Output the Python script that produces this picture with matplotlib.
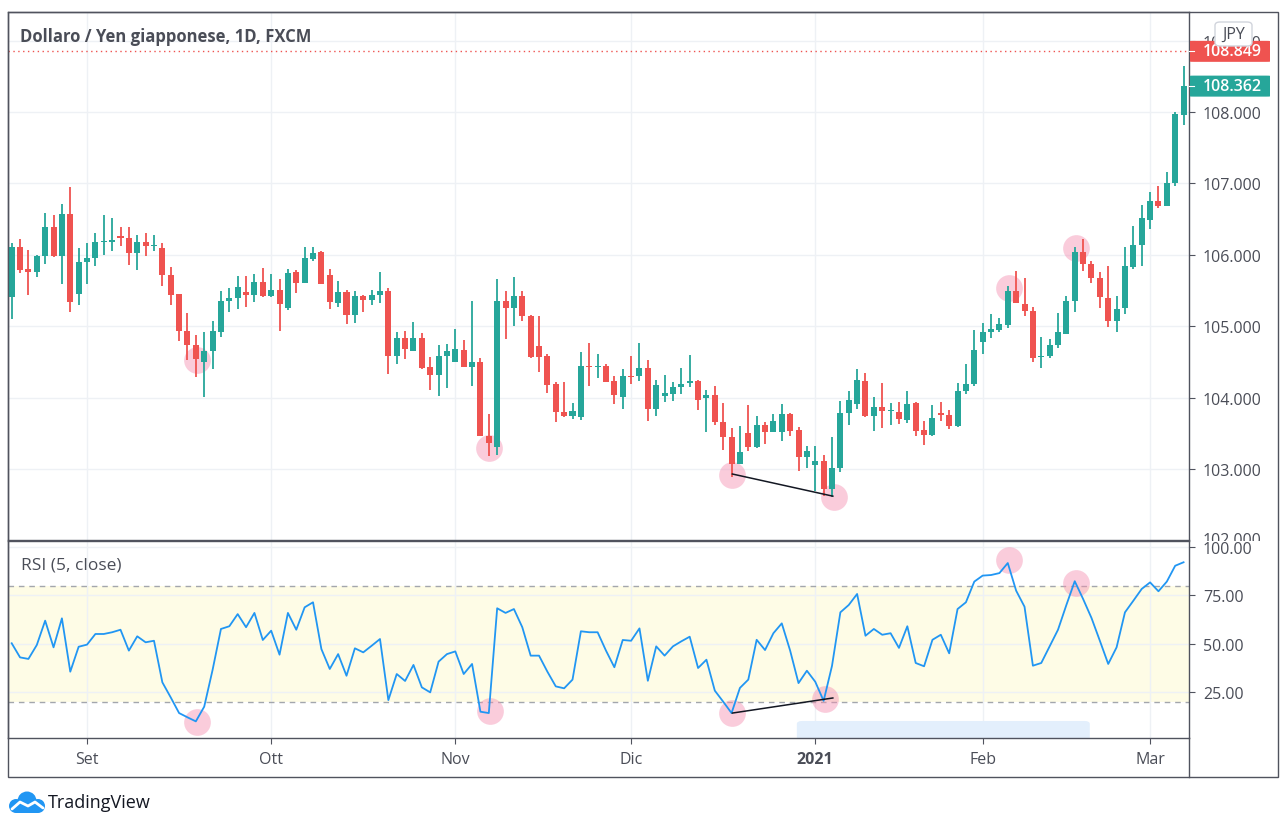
import matplotlib
matplotlib.use('Agg')
import matplotlib.pyplot as plt
import numpy as np
import pandas as pd
from matplotlib.patches import Rectangle, FancyBboxPatch, Circle
from matplotlib.transforms import blended_transform_factory, Bbox, TransformedBbox
from matplotlib.ticker import FixedLocator, FormatStrFormatter

# ---------------- data ----------------
opens = [105.41, 106.11, 105.80, 105.76, 105.98, 106.39, 105.98, 106.57, 105.45, 105.90,
         105.96, 106.18, 106.18, 106.25, 106.24, 106.03, 106.18, 106.12, 106.10, 105.72,
         105.45, 104.93, 104.74, 104.50, 104.65, 104.92, 105.35, 105.39, 105.48, 105.44,
         105.62, 105.42, 105.51, 105.25, 105.76, 105.61, 105.94, 106.04, 105.72, 105.32,
         105.48, 105.16, 105.42, 105.37, 105.44, 105.49, 104.58, 104.83, 104.65, 104.83,
         104.43, 104.32, 104.58, 104.50, 104.67, 104.43, 104.50, 103.46, 103.31, 105.35,
         105.25, 105.42, 105.14, 104.72, 104.58, 104.19, 103.80, 103.74, 103.73, 104.44,
         104.43, 104.44, 104.23, 104.01, 104.30, 104.30, 104.41, 103.84, 104.02, 104.05,
         104.15, 104.20, 104.23, 103.99, 104.04, 103.66, 103.45, 103.07, 103.50, 103.31,
         103.62, 103.52, 103.52, 103.77, 103.55, 103.17, 103.06, 103.11, 102.72, 103.01,
         103.78, 103.91, 104.23, 103.74, 103.87, 103.81, 103.80, 103.69, 103.92, 103.55,
         103.48, 103.77, 103.76, 103.60, 104.09, 104.19, 104.78, 104.92, 104.95, 105.02,
         105.49, 105.31, 105.21, 104.57, 104.58, 104.74, 104.89, 105.35, 106.04, 105.87,
         105.68, 105.39, 105.07, 105.25, 105.83, 106.14, 106.49, 106.75, 106.68, 107.01,
         107.96]
highs = [106.17, 106.22, 106.07, 106.00, 106.59, 106.56, 106.71, 106.95, 106.10, 106.17,
         106.31, 106.56, 106.52, 106.39, 106.39, 106.28, 106.31, 106.28, 106.17, 105.83,
         105.45, 105.18, 104.88, 104.92, 105.07, 105.49, 105.54, 105.70, 105.70, 105.73,
         105.82, 105.73, 105.66, 105.80, 105.79, 106.11, 106.11, 106.05, 105.80, 105.63,
         105.51, 105.49, 105.44, 105.51, 105.76, 105.54, 104.92, 104.93, 105.06, 104.90,
         104.57, 104.74, 104.75, 104.96, 104.81, 105.35, 104.55, 103.77, 105.66, 105.49,
         105.69, 105.49, 105.16, 105.14, 104.61, 104.22, 104.22, 103.92, 104.64, 104.76,
         104.61, 104.47, 104.30, 104.40, 104.58, 104.76, 104.53, 104.25, 104.32, 104.22,
         104.41, 104.60, 104.25, 104.11, 104.16, 103.92, 103.57, 103.60, 103.90, 103.74,
         103.66, 103.77, 103.91, 103.78, 103.59, 103.32, 103.32, 103.20, 103.45, 103.95,
         104.09, 104.40, 104.34, 104.01, 104.20, 103.92, 103.94, 104.09, 103.94, 103.67,
         103.90, 103.94, 103.83, 104.20, 104.47, 104.95, 105.04, 105.17, 105.11, 105.56,
         105.77, 105.68, 105.27, 104.85, 104.82, 105.18, 105.42, 106.11, 106.22, 105.91,
         105.76, 105.84, 105.42, 106.11, 106.40, 106.70, 106.88, 106.96, 107.16, 108.00,
         108.64]
lows = [105.10, 105.75, 105.44, 105.69, 105.87, 105.97, 105.59, 105.20, 105.30, 105.59,
        105.84, 106.00, 106.05, 106.12, 105.86, 105.79, 105.98, 106.05, 105.56, 105.30,
        104.79, 104.53, 104.29, 104.01, 104.40, 104.85, 105.20, 105.24, 105.27, 105.34,
        105.41, 105.41, 104.93, 105.23, 105.46, 105.61, 105.91, 105.59, 105.24, 105.27,
        105.03, 105.04, 105.20, 105.30, 105.32, 104.33, 104.47, 104.54, 104.65, 104.40,
        104.11, 104.02, 104.13, 104.50, 104.43, 104.16, 103.46, 103.18, 103.20, 104.82,
        105.00, 105.07, 104.55, 104.36, 104.06, 103.66, 103.73, 103.70, 103.69, 104.16,
        104.27, 104.22, 103.91, 103.84, 104.19, 104.23, 103.67, 103.74, 103.94, 103.95,
        104.05, 104.15, 103.83, 103.52, 103.62, 103.27, 102.89, 103.07, 103.25, 103.29,
        103.35, 103.52, 103.39, 103.46, 102.97, 103.01, 102.69, 102.62, 102.61, 102.96,
        103.62, 103.84, 103.73, 103.53, 103.57, 103.62, 103.63, 103.64, 103.46, 103.34,
        103.46, 103.67, 103.56, 103.59, 104.05, 104.16, 104.61, 104.83, 104.92, 104.97,
        105.32, 105.14, 104.50, 104.41, 104.55, 104.69, 104.89, 105.20, 105.77, 105.61,
        105.25, 104.99, 104.92, 105.17, 105.80, 105.84, 106.36, 106.66, 106.68, 106.96,
        107.82]
closes = [106.11, 105.79, 105.76, 105.98, 106.39, 105.98, 106.57, 105.34, 105.90, 105.96,
          106.18, 106.20, 106.21, 106.24, 106.03, 106.18, 106.12, 106.14, 105.72, 105.44,
          104.93, 104.74, 104.54, 104.65, 104.93, 105.35, 105.39, 105.55, 105.44, 105.62,
          105.42, 105.51, 105.31, 105.75, 105.61, 105.96, 106.03, 105.59, 105.34, 105.48,
          105.16, 105.42, 105.37, 105.44, 105.49, 104.58, 104.83, 104.68, 104.83, 104.41,
          104.32, 104.58, 104.65, 104.68, 104.43, 104.50, 103.46, 103.36, 105.35, 105.25,
          105.42, 105.14, 104.57, 104.57, 104.18, 103.80, 103.74, 103.81, 104.44, 104.43,
          104.44, 104.22, 104.04, 104.30, 104.29, 104.41, 103.84, 104.18, 104.06, 104.15,
          104.19, 104.23, 103.97, 104.04, 103.66, 103.45, 103.07, 103.24, 103.31, 103.62,
          103.52, 103.67, 103.77, 103.53, 103.17, 103.25, 103.11, 102.72, 103.01, 103.78,
          103.97, 104.25, 103.74, 103.87, 103.81, 103.83, 103.70, 103.91, 103.53, 103.48,
          103.71, 103.76, 103.60, 104.09, 104.19, 104.67, 104.92, 104.96, 105.03, 105.49,
          105.32, 105.21, 104.55, 104.58, 104.74, 104.92, 105.35, 106.04, 105.87, 105.68,
          105.41, 105.07, 105.24, 105.84, 106.14, 106.52, 106.75, 106.68, 107.01, 107.97,
          108.362]
rsi = [50.2, 42.9, 42.1, 49.3, 61.9, 48.1, 63.1, 35.5, 48.4, 49.5,
       55.0, 55.0, 55.9, 57.2, 46.4, 53.8, 50.7, 51.5, 30.0, 22.2,
       14.1, 11.9, 9.8, 17.4, 36.4, 57.6, 59.0, 65.3, 58.5, 65.9,
       51.9, 56.7, 44.3, 65.9, 57.2, 68.8, 71.4, 47.2, 36.9, 44.6,
       33.4, 47.6, 45.5, 48.9, 52.4, 20.8, 34.3, 30.7, 39.0, 27.4,
       24.8, 40.7, 44.6, 46.0, 34.3, 39.5, 14.8, 14.1, 68.3, 65.9,
       67.9, 58.5, 43.8, 43.8, 35.5, 27.9, 26.9, 31.4, 56.4, 55.9,
       55.9, 46.4, 37.8, 51.9, 51.5, 57.9, 30.8, 48.6, 43.8, 48.6,
       51.2, 53.6, 37.4, 41.7, 25.7, 20.0, 14.1, 27.1, 31.4, 52.0,
       46.7, 55.4, 60.5, 46.4, 29.6, 36.0, 30.3, 20.4, 38.5, 66.2,
       70.0, 75.7, 54.1, 57.6, 54.6, 55.4, 47.8, 59.0, 40.0, 38.3,
       52.0, 54.6, 45.0, 67.9, 71.4, 82.1, 85.2, 85.5, 86.5, 91.7,
       77.4, 69.1, 38.6, 40.0, 48.6, 57.2, 70.0, 82.3, 73.1, 63.3,
       51.5, 39.5, 48.1, 66.2, 72.2, 78.3, 81.7, 77.1, 82.1, 90.3,
       92.1]

month_labels = ['Set', 'Ott', 'Nov', 'Dic', '2021', 'Feb', 'Mar']
price_ticks = [103, 104, 105, 106, 107, 108, 109]
rsi_ticks = [25, 50, 75, 100]
rsi_upper, rsi_lower = 80, 20
last_price = 108.362
line_price = 108.849

# annotation marks (bar index, value)
price_circle_x = [22.1, 57.0, 86.1, 98.2, 119.1, 127.2]
price_circle_y = [104.52, 103.30, 102.91, 102.61, 105.54, 106.10]
rsi_circle_x = [22.1, 57.1, 86.1, 97.2, 119.2, 127.2]
rsi_circle_y = [9.3, 15.3, 14.1, 21.4, 93.4, 81.4]
price_trend_x = [86.1, 98.1]
price_trend_y = [102.93, 102.62]
rsi_trend_x = [86.1, 98.1]
rsi_trend_y = [14.1, 21.9]
range_box = (93.8, 128.8, 0, 10)

dates = pd.bdate_range('2020-08-19', '2021-03-05')
dates = dates[~dates.isin(pd.to_datetime(['2020-12-25', '2021-01-01']))]

# ---------------- style ----------------
TEAL = '#26a69a'
RED = '#ef5350'
GRID = '#eef1f5'
FRAME = '#50535e'
TXT = '#4a4d57'
FONT = ['Open Sans', 'DejaVu Sans']
plt.rcParams['font.family'] = FONT

W, H = 1280, 828
fig = plt.figure(figsize=(12.8, 8.28), dpi=100)
fig.patch.set_facecolor('white')


def fx(px):
    return px / W


def fy(py):
    return 1 - py / H


ax = fig.add_axes([fx(8), fy(541), fx(1189) - fx(8), fy(13) - fy(541)])
rx = fig.add_axes([fx(8), fy(739), fx(1189) - fx(8), fy(542) - fy(739)], sharex=ax)

n = len(closes)
idx = np.arange(n)
o = np.array(opens); h = np.array(highs); l = np.array(lows); c = np.array(closes)
up = c >= o
cols = np.where(up, TEAL, RED)

# candles
ax.vlines(idx, l, h, colors=cols, lw=1.3, zorder=3)
body_bot = np.minimum(o, c)
body_h = np.maximum(np.abs(c - o), 0.018)
ax.bar(idx, body_h, width=0.72, bottom=body_bot, color=cols, linewidth=0, zorder=4)

ax.set_xlim(-0.44, 140.65)
ax.set_ylim(102.006, 109.40)

# month ticks
month_starts = [i for i in range(1, n) if dates[i].month != dates[i - 1].month]
ax.xaxis.set_major_locator(FixedLocator(month_starts))
ax.yaxis.set_major_locator(FixedLocator(price_ticks))
ax.yaxis.set_major_formatter(FormatStrFormatter('%.3f'))
ax.yaxis.tick_right()
ax.tick_params(axis='x', length=0, labelbottom=False)
ax.tick_params(axis='y', direction='out', length=4.5, width=0.8, color=FRAME,
               labelcolor=TXT, labelsize=11.5, pad=5.5)
ax.grid(True, color=GRID, lw=1, zorder=0)
ax.set_axisbelow(True)
for s in ax.spines.values():
    s.set_color(FRAME); s.set_linewidth(1)

# red dotted line
ax.axhline(line_price, color=RED, lw=1, ls=(0, (1, 2.5)), zorder=2)

# pink circles & trend line
ax.scatter(price_circle_x, price_circle_y, s=370, color='#f48fb1', alpha=0.45,
           linewidths=0, zorder=1.5)
ax.plot(price_trend_x, price_trend_y, color='#131722', lw=1.1, zorder=5)

# title
fig.text(fx(20), fy(37), 'Dollaro / Yen giapponese, 1D, FXCM', fontsize=12,
         fontweight='bold', color=TXT, va='center', ha='left')

# ---------------- RSI ----------------
rx.fill_between([-1, n + 1], rsi_lower, rsi_upper, color='#fefce6', zorder=0.5, lw=0)
rx.plot(idx, rsi, color='#2196f3', lw=1.3, zorder=4)
for lv in (rsi_upper, rsi_lower):
    rx.axhline(lv, color='#a3a6ad', lw=1, ls=(0, (4, 3.5)), zorder=1)
rx.scatter(rsi_circle_x, rsi_circle_y, s=370, color='#f48fb1', alpha=0.45,
           linewidths=0, zorder=3)
rx.plot(rsi_trend_x, rsi_trend_y, color='#131722', lw=1.1, zorder=5)
rx.add_patch(FancyBboxPatch((range_box[0], range_box[2]), range_box[1] - range_box[0],
                            range_box[3] - range_box[2],
                            boxstyle='round,pad=0,rounding_size=0.6',
                            mutation_aspect=2.6, color='#e3effc', lw=0, zorder=2))
rx.set_ylim(1.2, 103.1)
rx.yaxis.set_major_locator(FixedLocator(rsi_ticks))
rx.yaxis.set_major_formatter(FormatStrFormatter('%.2f'))
rx.yaxis.tick_right()
rx.tick_params(axis='y', direction='out', length=4.5, width=0.8, color=FRAME,
               labelcolor=TXT, labelsize=11.5, pad=5.5)
rx.xaxis.set_major_locator(FixedLocator(month_starts))
rx.set_xticklabels(month_labels)
rx.tick_params(axis='x', direction='out', length=4.5, width=0.8, color=FRAME,
               labelcolor=TXT, labelsize=11.5, pad=5)
for t in rx.get_xticklabels():
    if t.get_text() == '2021':
        t.set_fontweight('bold')
rx.grid(True, color=GRID, lw=1, zorder=0)
rx.set_axisbelow(True)
for s in rx.spines.values():
    s.set_color(FRAME); s.set_linewidth(1)
fig.text(fx(21), fy(566), 'RSI (5, close)', fontsize=12.5, color=TXT, va='center', ha='left')

# 102.000 label partially hidden
t102 = fig.text(fx(1203), fy(541), '102.000', fontsize=11.5, color=TXT, va='center', ha='left')
t102.set_clip_box(TransformedBbox(Bbox.from_extents(fx(1190), fy(542), fx(1277), fy(520)),
                                  fig.transFigure))

# price-scale label boxes
blend = blended_transform_factory(fig.transFigure, ax.transData)
for val, colr in ((line_price, RED), (last_price, TEAL)):
    hh = 21 / 71.4
    fig.add_artist(FancyBboxPatch((fx(1190), val - hh / 2), fx(1270) - fx(1190), hh,
                                  boxstyle='round,pad=0,rounding_size=0.003',
                                  transform=blend, color=colr, lw=0, zorder=5,
                                  mutation_aspect=1))
    fig.add_artist(plt.Line2D([fx(1189), fx(1194)], [val, val], transform=blend,
                              color='white', lw=0.8, zorder=6))
    tt = fig.text(fx(1203), 0, f'{val:.3f}', transform=blend, fontsize=11.5, color='white',
                  fontweight='semibold', va='center', ha='left', zorder=7)
    tt.set_y(val)

# JPY box
fig.add_artist(FancyBboxPatch((fx(1215), fy(47)), fx(1252) - fx(1215), fy(23) - fy(47),
                              boxstyle='round,pad=0,rounding_size=0.004',
                              transform=fig.transFigure, facecolor='white',
                              edgecolor='#d1d4dc', lw=1, zorder=8))
fig.text(fx(1233.5), fy(35), 'JPY', fontsize=11.5, color=TXT, ha='center', va='center', zorder=9)

# outer frame
fig.add_artist(Rectangle((fx(8), fy(778)), fx(1278) - fx(8), fy(13) - fy(778),
                         transform=fig.transFigure, fill=False, edgecolor=FRAME, lw=1, zorder=10))
fig.add_artist(plt.Line2D([fx(1189), fx(1189)], [fy(739), fy(778)], transform=fig.transFigure,
                          color=FRAME, lw=1, zorder=10))

# TradingView logo
lax = fig.add_axes([fx(7), fy(815), fx(47) - fx(7), fy(790) - fy(815)])
lax.set_xlim(0, 40); lax.set_ylim(0, 25); lax.axis('off')
BLUE = '#2196f3'
for (cx, cy, r) in [(9, 8, 7), (20, 13, 9.5), (31, 8, 7)]:
    lax.add_patch(Circle((cx, cy), r, color=BLUE, lw=0))
lax.add_patch(Rectangle((9, 1), 22, 8, color=BLUE, lw=0))
lax.plot([5, 13, 21, 28, 36], [5, 12, 8, 12, 6], color='white', lw=2, solid_capstyle='round')
fig.text(fx(48), fy(803), 'TradingView', fontsize=13, color='#131722', ha='left', va='center')

fig.savefig('out.png', dpi=100, facecolor='white')
